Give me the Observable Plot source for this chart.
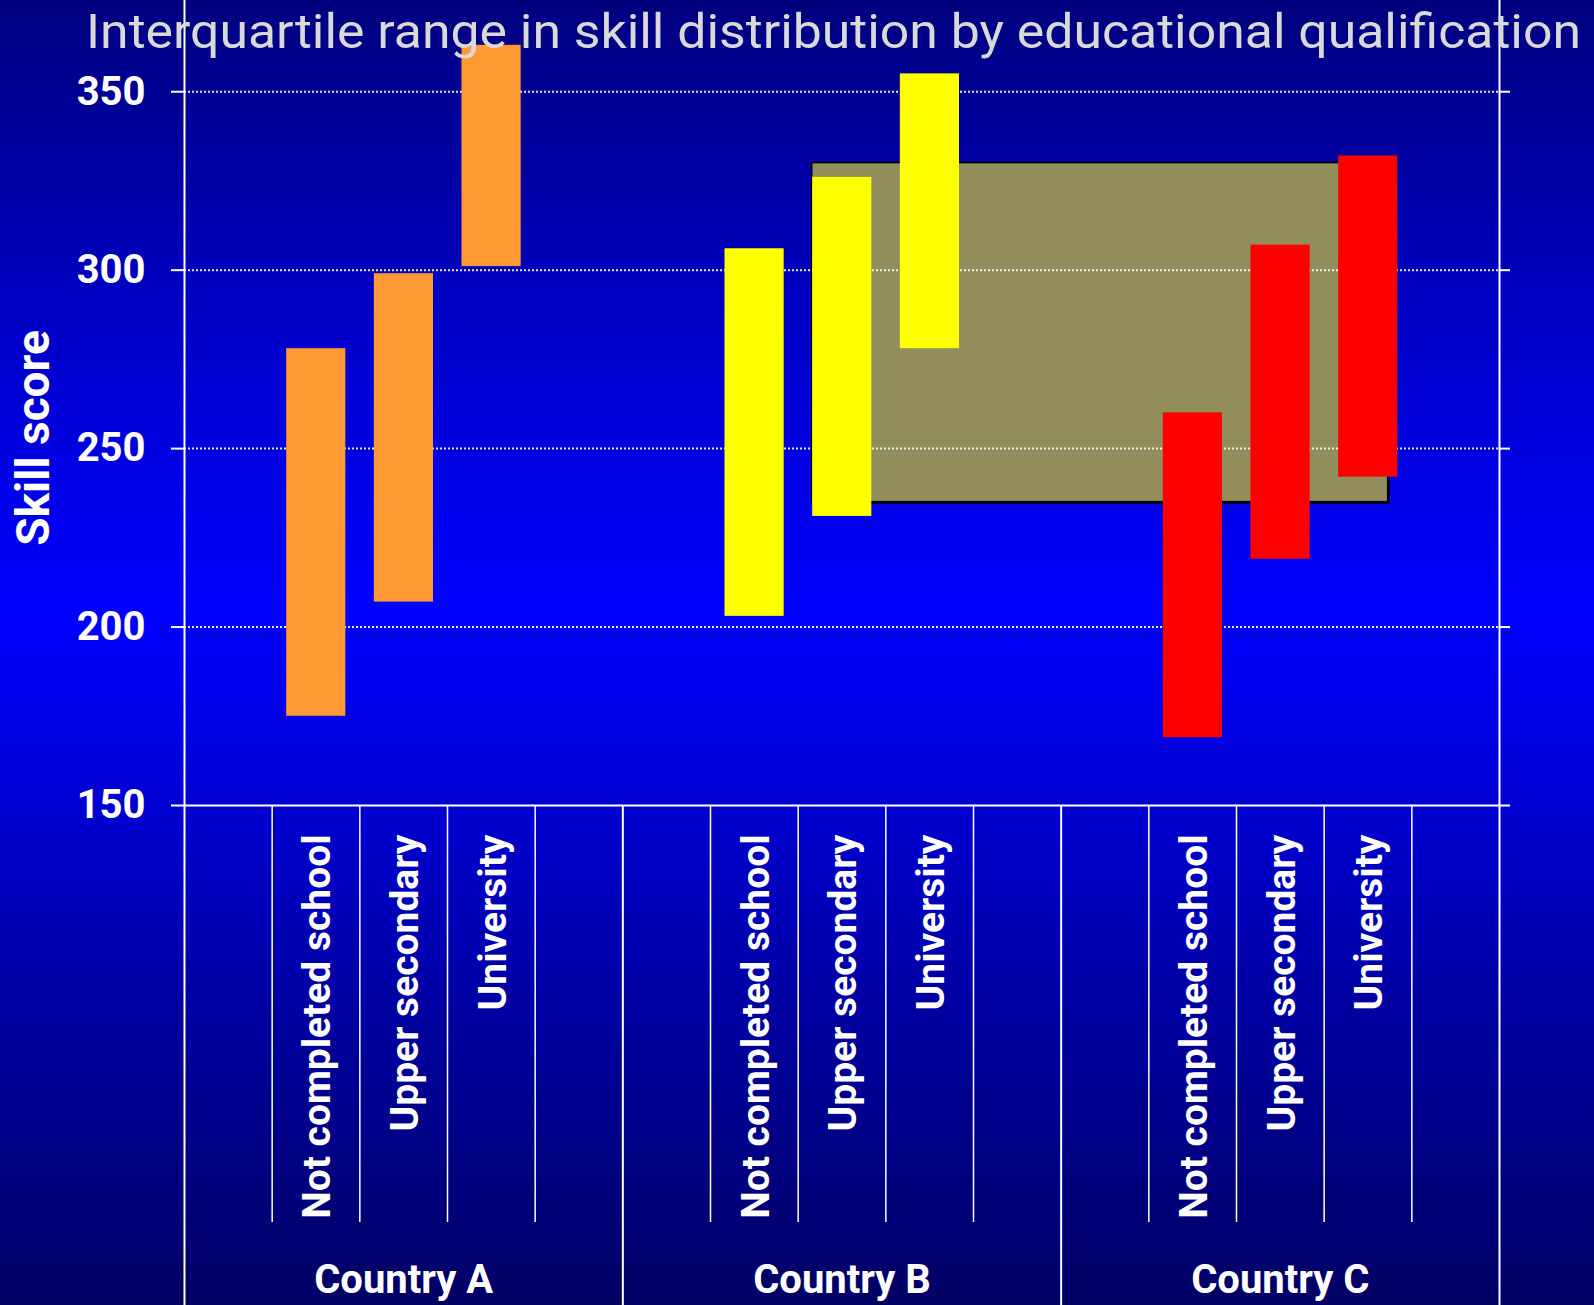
<!DOCTYPE html>
<html><head><meta charset="utf-8">
<script src="https://cdn.jsdelivr.net/npm/d3@7"></script>
<script src="https://cdn.jsdelivr.net/npm/@observablehq/plot@0.6"></script>
<style>
html,body{margin:0;padding:0;overflow:hidden;}
body{width:1594px;height:1305px;position:relative;
  background:linear-gradient(to bottom,#00007e 0%,#0000c8 25%,#0000ff 47%,#0000a8 75%,#000064 100%);}
#chart{position:absolute;left:0;top:0;}
#title{position:absolute;left:86px;top:8px;font-family:Roboto,sans-serif;font-size:48px;line-height:1;
  color:#d9d9d9;white-space:nowrap;transform-origin:0 0;}
</style></head><body>
<div id="chart"></div>
<div id="title">Interquartile range in skill distribution by educational qualification</div>
<script>
// ---- data ----
const countries = ["Country A", "Country B", "Country C"];
const qualifications = ["Not completed school", "Upper secondary", "University"];
const lowerA = [175, 207, 301];
const upperA = [278, 299, 363];
const lowerB = [203, 231, 278];
const upperB = [306, 326, 355];
const lowerC = [169, 219, 242];
const upperC = [260, 307, 332];
const barColors = ["#ff9933", "#ffff00", "#ff0000"];
const yTicks = [150, 200, 250, 300, 350];
// highlighted score band (score range) and its horizontal span in slot units
const highlightScore = [235, 330];
const highlightSlots = [7.16, 13.73];

// ---- build table ----
const lowers = [lowerA, lowerB, lowerC];
const uppers = [upperA, upperB, upperC];
const slotsPerCountry = qualifications.length + 2;
const nSlots = countries.length * slotsPerCountry;
const rows = countries.flatMap((c, ci) => qualifications.map((q, qi) => ({
  country: c, qual: q, slot: ci * slotsPerCountry + 1 + qi,
  low: lowers[ci][qi], high: uppers[ci][qi]
})));
const boundaries = d3.range(0, nSlots + 1);
const outer = [0, nSlots];
const countryBounds = boundaries.filter(b => b % slotsPerCountry === 0 && b !== 0 && b !== nSlots);
const innerBounds = boundaries.filter(b => b % slotsPerCountry !== 0);
const highlight = [{x1: highlightSlots[0], x2: highlightSlots[1], y1: highlightScore[0], y2: highlightScore[1]}];
const base = yTicks[0];
const yDomain = [150, 375];
const yMid = (yDomain[0] + yDomain[1]) / 2;

const font = "Roboto, sans-serif";
const chart = Plot.plot({
  width: 1594, height: 1305,
  marginLeft: 184, marginRight: 95, marginTop: 2, marginBottom: 500,
  x: {domain: [0, nSlots], axis: null},
  y: {domain: yDomain, axis: null},
  color: {domain: countries, range: barColors},
  style: {background: "transparent", overflow: "visible", fontFamily: font, color: "white"},
  marks: [
    Plot.rect(highlight, {x1: "x1", x2: "x2", y1: "y1", y2: "y2", fill: "black", dx: 2, dy: 2}),
    Plot.rect(highlight, {x1: "x1", x2: "x2", y1: "y1", y2: "y2", fill: "#918e5c", stroke: "black", strokeWidth: 1.5}),
    Plot.ruleY(yTicks.slice(1), {x1: 0, x2: nSlots, stroke: "white", strokeWidth: 2, strokeDasharray: "2,2", strokeOpacity: 0.9}),
    Plot.ruleY(yTicks.slice(1), {x1: nSlots, x2: nSlots, insetRight: -11, stroke: "white", strokeWidth: 2}),
    Plot.rect(rows, {x1: "slot", x2: d => d.slot + 1, y1: "low", y2: "high", fill: "country", insetLeft: 14.5, insetRight: 14}),
    Plot.ruleY([base], {x1: 0, x2: nSlots, insetRight: -11, stroke: "white", strokeWidth: 2}),
    Plot.ruleX(outer, {x: d => d, stroke: "white", strokeWidth: 2, insetTop: -2, insetBottom: -500}),
    Plot.ruleX(countryBounds, {x: d => d, y1: () => base, y2: () => base, insetBottom: -500, stroke: "white", strokeWidth: 2}),
    Plot.ruleX(innerBounds, {x: d => d, y1: () => base, y2: () => base, insetBottom: -417, stroke: "white", strokeWidth: 1.5}),
    Plot.axisY({ticks: yTicks, tickSize: 13, tickPadding: 26, fontSize: 40, fontWeight: "bold", strokeWidth: 2, label: null}),
    Plot.text(rows, {x: d => d.slot + 0.5, y: () => base, text: "qual", rotate: -90, textAnchor: "end", lineAnchor: "middle",
      dy: 29, dx: 2, fontSize: 39, fontWeight: "bold", fill: "white"}),
    Plot.text(countries, {x: (d, i) => i * slotsPerCountry + slotsPerCountry / 2, y: () => base, text: d => d,
      lineAnchor: "bottom", dy: 487, fontSize: 40, fontWeight: "bold", fill: "white"}),
    Plot.text(["Skill score"], {x: () => 0, y: () => yMid, text: d => d, rotate: -90, dx: -150, dy: 34, lineAnchor: "middle",
      fontSize: 46, fontWeight: "bold", fill: "white"})
  ]
});
document.getElementById("chart").appendChild(chart);
const t = document.getElementById("title");
const w = t.getBoundingClientRect().width;
t.style.transform = `scaleX(${1495 / w})`;
</script>
</body></html>
